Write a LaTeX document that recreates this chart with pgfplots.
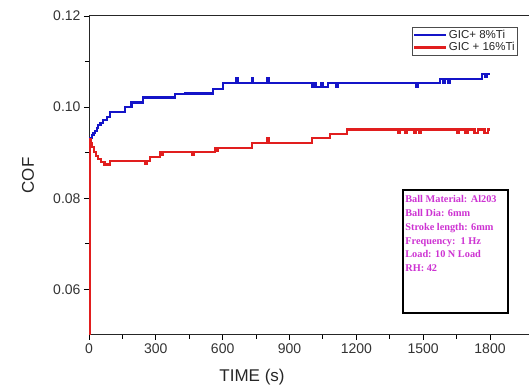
\documentclass[border=0pt]{standalone}
\usepackage{fontspec}
\setmainfont{Liberation Sans}
\newfontfamily\boxfont{Liberation Serif}
\usepackage{pgfplots}
\pgfplotsset{compat=1.18}
\definecolor{cblue}{RGB}{20,20,200}
\definecolor{cred}{RGB}{225,30,30}
\definecolor{cmag}{RGB}{205,50,210}
\begin{document}
\begin{tikzpicture}
\begin{axis}[
  scale only axis,
  width=440pt, height=319pt,
  xmin=0, xmax=1975, ymin=0.05, ymax=0.12,
  axis x line*=box, axis y line*=left,
  xtick={0,300,600,900,1200,1500,1800},
  ytick={0.06,0.08,0.10,0.12},
  minor x tick num=1, minor y tick num=1,
  xtick pos=bottom, ytick pos=left,
  tick align=outside,
  major tick length=5pt, minor tick length=4pt,
  every tick/.style={black, line width=0.9pt},
  axis line style={black!85, line width=1pt},
  /pgf/number format/assume math mode=true,
  yticklabel style={/pgf/number format/.cd, fixed, fixed zerofill, precision=2},
  xticklabel style={/pgf/number format/.cd, fixed, 1000 sep={}},
  ticklabel style={font=\fontsize{14}{16}\selectfont, text=black!80},
  xlabel={TIME (s)}, ylabel={COF},
  label style={font=\fontsize{17}{19}\selectfont, text=black!85},
  xlabel style={at={(axis description cs:0.3705,-0.1317)}, anchor=center},
  ylabel style={at={(axis description cs:-0.1386,0.5)}, anchor=center, rotate=0},
  legend style={at={(axis description cs:0.734,0.9655)}, anchor=north west,
    font=\fontsize{11.5}{12}\selectfont, inner sep=1pt, draw=black!70, line width=0.6pt,
    row sep=0pt, nodes={inner sep=1.5pt, text=black!85}},
  legend cell align=left,
  legend image code/.code={\draw[#1, line width=2.2pt] (0pt,0pt) -- (32pt,0pt);},
]
\addplot[cblue, const plot, line width=2.2pt] coordinates {
(0,0.0925) (4,0.0932) (12,0.0938) (20,0.0944) (27,0.0948) (35,0.0955) (42,0.0961)
(52,0.0966) (64,0.0972) (80,0.0978) (94,0.0990) (162,0.1001) (191,0.1010) (244,0.1021)
(386,0.1028) (431,0.1030) (557,0.1039) (601,0.1053) (662,0.1064) (668,0.1053)
(730,0.1064) (736,0.1053) (800,0.1064) (808,0.1053) (1000,0.1045) (1010,0.1053)
(1020,0.1045) (1040,0.1053) (1048,0.1045) (1072,0.1053) (1110,0.1045) (1118,0.1053)
(1470,0.1044) (1476,0.1053) (1575,0.1061) (1590,0.1053) (1598,0.1061) (1612,0.1053)
(1620,0.1061) (1765,0.1073) (1780,0.1067) (1785,0.1073) (1800,0.1073)
};
\addlegendentry{GIC+ 8\%Ti}
\addplot[cred, const plot, line width=2.2pt] coordinates {
(0,0.0500) (4,0.0929) (9,0.0922) (15,0.0912) (22,0.0902) (30,0.0893) (40,0.0886)
(55,0.0880) (70,0.0874) (95,0.0881) (251,0.0875) (258,0.0881) (274,0.0891)
(319,0.0901) (325,0.0895) (333,0.0901) (465,0.0895) (471,0.0901) (565,0.0910)
(572,0.0905) (580,0.0910) (732,0.0921) (800,0.0933) (808,0.0921) (1000,0.0932)
(1082,0.0941) (1157,0.0951) (1387,0.0944) (1395,0.0951) (1420,0.0944) (1428,0.0951)
(1460,0.0944) (1468,0.0951) (1480,0.0944) (1488,0.0951) (1650,0.0944) (1660,0.0951)
(1690,0.0944) (1700,0.0951) (1730,0.0944) (1745,0.0951) (1775,0.0944) (1790,0.0951)
(1800,0.0951)
};
\addlegendentry{GIC + 16\%Ti}
\coordinate (SW) at (rel axis cs:0,0);
\coordinate (NE) at (rel axis cs:1,1);
\draw[black, line width=1.2pt] (rel axis cs:0.7136,0.4545) rectangle (rel axis cs:0.9523,0.069);
\node[anchor=north west, inner sep=0pt, align=left, text=cmag,
  font=\boxfont\bfseries\fontsize{10.3}{13.7}\selectfont]
  at (rel axis cs:0.7185,0.437) {Ball Material: Al203\\Ball Dia: 6mm\\Stroke length: 6mm\\Frequency:\ \ 1 Hz\\Load: 10 N Load\\RH: 42};
\end{axis}
\pgfresetboundingbox
\useasboundingbox ([xshift=-89pt,yshift=-52pt]SW) rectangle ([yshift=16pt]NE);
\end{tikzpicture}
\end{document}
